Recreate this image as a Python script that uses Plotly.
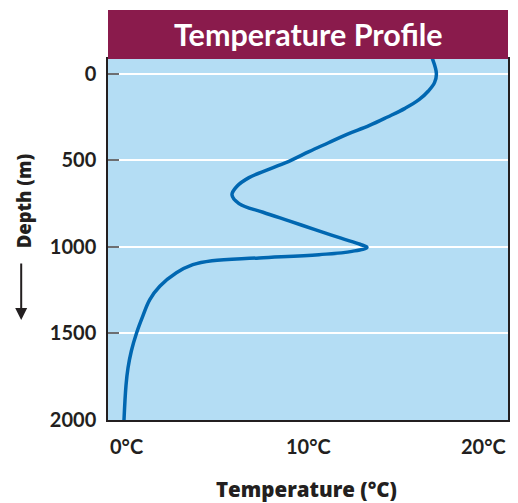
import plotly.graph_objects as go

# Data
depth_m = [-93, 0, 50, 100, 150, 200, 250, 300, 350, 400, 450, 500, 550, 600, 650,
           700, 750, 800, 850, 900, 950, 985, 1003, 1026, 1045, 1064, 1080, 1103,
           1150, 1228, 1305, 1400, 1500, 1600, 1700, 1800, 2000]
temp_c = [16.2, 16.42, 16.33, 16.02, 15.55, 14.85, 13.98, 13.05, 11.95, 11.0, 10.05,
          9.15, 8.1, 7.05, 6.45, 6.2, 6.55, 7.75, 9.05, 10.35, 11.65, 12.6, 12.95,
          12.2, 10.55, 7.56, 5.2, 4.24, 3.42, 2.59, 2.09, 1.74, 1.42, 1.17, 1.0,
          0.9, 0.8]

y_ticks = [0, 500, 1000, 1500, 2000]
x_ticks = [0, 10, 20]
x_tick_labels = ["0°C", "10°C", "20°C"]
x_tick_anchor = ["left", "center", "right"]

TEXT = "#231f20"
FONT = "Lato"
HEAVY = "Open Sans"

fig = go.Figure()
fig.add_trace(go.Scatter(
    x=temp_c, y=depth_m, mode="lines",
    line=dict(color="#0067b1", width=3.5, shape="spline", smoothing=1.1),
    hoverinfo="skip", showlegend=False,
))

# page body has an 8px margin; figure sized to sit inside the window
fig.update_layout(
    width=510, height=495,
    margin=dict(l=100, r=8, t=51, b=83),
    paper_bgcolor="white",
    plot_bgcolor="#b4ddf4",
    font=dict(family=FONT, color=TEXT),
    showlegend=False,
)

fig.update_xaxes(
    range=[0, 20], showgrid=False, zeroline=False, showticklabels=False, ticks="",
    showline=True, linecolor=TEXT, linewidth=1.5, mirror=True,
)
fig.update_yaxes(
    range=[2000, -85], tickvals=y_ticks, ticktext=[str(v) for v in y_ticks],
    showgrid=True, gridcolor="white", gridwidth=2, zeroline=False,
    ticks="inside", ticklen=11, tickwidth=2, tickcolor="#6d6e71",
    tickfont=dict(family=FONT, size=20, color=TEXT, weight="bold"),
    ticklabelstandoff=6,
    showline=True, linecolor=TEXT, linewidth=1.5, mirror=True,
)

# Title bar
fig.add_shape(type="rect", xref="paper", yref="paper",
              x0=0, x1=1, y0=1, y1=1 + 49 / 361,
              fillcolor="#8a1b4c", line=dict(width=0), layer="above")

annotations = [
    dict(text="Temperature Profile", xref="paper", yref="paper", x=0.5, y=1.069,
         xanchor="center", yanchor="middle", showarrow=False,
         font=dict(family=FONT, size=30.5, color="white", weight="bold")),
    dict(text="Temperature (°C)", xref="paper", yref="paper", x=0.497, y=-0.19,
         xanchor="center", yanchor="middle", showarrow=False,
         font=dict(family=HEAVY, size=20.5, color=TEXT, weight=800)),
    dict(text="Depth (m)", xref="paper", yref="paper", x=-0.2114, y=0.607,
         xanchor="center", yanchor="middle", showarrow=False, textangle=-90,
         font=dict(family=HEAVY, size=18.5, color=TEXT, weight=800)),
    dict(text="", xref="paper", yref="paper", x=-0.217, y=(420 - 320) / 361,
         axref="pixel", ayref="pixel", ax=0, ay=-58, showarrow=True,
         arrowhead=2, arrowsize=1.2, arrowwidth=2, arrowcolor=TEXT),
]
for v, lab, anc in zip(x_ticks, x_tick_labels, x_tick_anchor):
    annotations.append(dict(text=lab, xref="x", yref="paper", x=v, y=-0.072,
                            xanchor=anc, yanchor="middle", showarrow=False,
                            font=dict(family=FONT, size=20, color=TEXT, weight="bold")))
fig.update_layout(annotations=annotations)

fig.write_html("out.html")
